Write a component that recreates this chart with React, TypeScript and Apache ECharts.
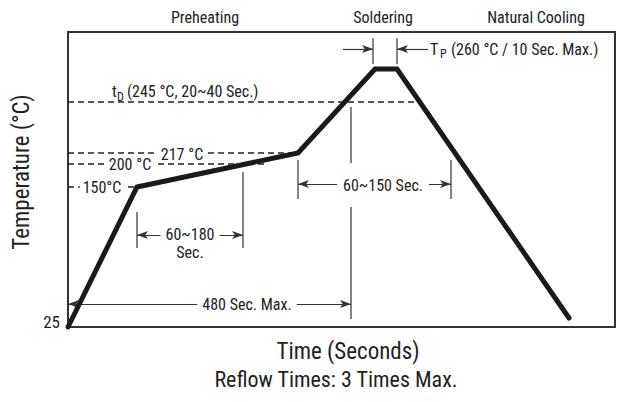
import React, { useEffect, useRef } from 'react';
import * as echarts from 'echarts';

// Schematic diagram units (the original chart is not drawn to scale)
const xMax = 547;
const yMax = 295;

// Reflow profile: time (schematic) vs temperature level (schematic)
const profileX = [0, 69, 230, 307, 329, 501];
const profileY = [0, 140, 174, 258, 258, 9];

// Dashed temperature levels: 245, 217, 200, 150 °C
const levelY = [225, 174, 163, 140];
const levelEndX = [352, 230, 199, 69];

// Thin vertical marker lines: [x, yFrom, yTo]
const tickX = [283, 69, 175, 230, 383, 305, 329];
const tickFrom = [8, 79, 79, 128, 128, 263, 263];
const tickTo = [220, 115, 155, 167, 167, 289, 289];

// Double-headed dimension arrows: [xFrom, xTo, y]
const dimFrom = [0, 230, 69];
const dimTo = [283, 383, 175];
const dimY = [23, 143, 92];

// Single-headed arrows pointing at peak time window
const arrFrom = [275, 360];
const arrTo = [305, 329];
const arrY = [278, 278];

const FONT = "'Roboto Condensed', Roboto, 'Noto Sans', sans-serif";
const INK = '#222';

export default function App() {
  const ref = useRef<HTMLDivElement>(null);
  useEffect(() => {
    document.body.style.margin = '0';
    if (!ref.current) return;
    const chart = echarts.init(ref.current, undefined, { renderer: 'svg' });

    const series: any[] = [];
    levelY.forEach((y, i) => {
      series.push({
        type: 'line',
        data: [[0, y], [levelEndX[i], y]],
        symbol: 'none',
        silent: true,
        clip: false,
        z: 2,
        lineStyle: { color: INK, width: 1.6, type: [6, 4] },
      });
    });
    tickX.forEach((x, i) => {
      series.push({
        type: 'line',
        data: [[x, tickFrom[i]], [x, tickTo[i]]],
        symbol: 'none',
        silent: true,
        clip: false,
        z: 2,
        lineStyle: { color: '#333', width: 1.2 },
      });
    });
    const markData: any[] = [];
    dimFrom.forEach((x, i) => {
      markData.push([
        { coord: [x, dimY[i]], symbol: 'arrow' },
        { coord: [dimTo[i], dimY[i]], symbol: 'arrow' },
      ]);
    });
    arrFrom.forEach((x, i) => {
      markData.push([
        { coord: [x, arrY[i]], symbol: 'none' },
        { coord: [arrTo[i], arrY[i]], symbol: 'arrow' },
      ]);
    });
    series.push({
      type: 'line',
      data: [],
      silent: true,
      z: 2,
      markLine: {
        silent: true,
        animation: false,
        symbolSize: [6, 11],
        label: { show: false },
        lineStyle: { color: '#333', width: 1.2, type: 'solid' },
        emphasis: { disabled: true },
        data: markData,
      },
    });
    series.push({
      type: 'line',
      data: profileX.map((x, i) => [x, profileY[i]]),
      symbol: 'none',
      silent: true,
      clip: false,
      z: 5,
      lineStyle: { color: '#1a1a1a', width: 5, join: 'miter', cap: 'round' },
    });

    const txt = (x: number, y: number, text: string, size: number, align = 'center', extra: any = {}) => ({
      type: 'text',
      x,
      y,
      z: 10,
      style: {
        text,
        fontSize: size,
        fontFamily: FONT,
        fill: INK,
        align,
        verticalAlign: 'middle',
        ...extra,
      },
    });
    const bg = { backgroundColor: '#fff' };

    chart.setOption({
      animation: false,
      grid: {
        left: 68,
        top: 32,
        width: 547,
        height: 295,
        show: true,
        borderColor: '#333',
        borderWidth: 2,
        backgroundColor: 'transparent',
      },
      xAxis: {
        type: 'value',
        min: 0,
        max: xMax,
        axisLine: { show: false },
        axisTick: { show: false },
        axisLabel: { show: false },
        splitLine: { show: false },
      },
      yAxis: {
        type: 'value',
        min: 0,
        max: yMax,
        axisLine: { show: false },
        axisTick: { show: false },
        axisLabel: { show: false },
        splitLine: { show: false },
      },
      series,
      graphic: [
        txt(205, 17, 'Preheating', 16),
        txt(383, 17, 'Soldering', 16),
        txt(536, 17, 'Natural Cooling', 16),
        txt(430, 49, 'T', 16, 'left'),
        txt(440, 54, 'P', 12, 'left'),
        txt(451, 49, '(260 °C / 10 Sec. Max.)', 16, 'left'),
        txt(112, 91, 't', 16, 'left'),
        txt(117, 97, 'D', 12, 'left'),
        txt(127, 91, '(245 °C, 20~40 Sec.)', 16, 'left'),
        txt(182, 154, '217 °C', 16, 'center', { ...bg, padding: [0, 3], lineHeight: 13 }),
        txt(130, 164, '200 °C', 16, 'center', { ...bg, padding: [0, 3], lineHeight: 13 }),
        txt(102, 187, '150°C', 16, 'center', { ...bg, padding: [0, 3], lineHeight: 14 }),
        txt(383, 185, '60~150 Sec.', 16, 'center', { ...bg, padding: [12, 6], lineHeight: 20 }),
        txt(190, 234, '60~180', 16, 'center', { ...bg, padding: [0, 5], lineHeight: 14 }),
        txt(190, 252, 'Sec.', 16, 'center', { lineHeight: 14 }),
        txt(247, 304, '480 Sec. Max.', 16, 'center', { ...bg, padding: [0, 5] }),
        txt(60, 322, '25', 17, 'right'),
        {
          type: 'text',
          x: 21,
          y: 172,
          rotation: Math.PI / 2,
          z: 10,
          style: {
            text: 'Temperature (°C)',
            fontSize: 23,
            fontFamily: FONT,
            fill: INK,
            align: 'center',
            verticalAlign: 'middle',
          },
        },
        txt(348, 351, 'Time (Seconds)', 23),
        txt(336, 379, 'Reflow Times: 3 Times Max.', 22),
      ],
    });
    return () => chart.dispose();
  }, []);
  return <div ref={ref} style={{ width: 618, height: 402 }} />;
}
